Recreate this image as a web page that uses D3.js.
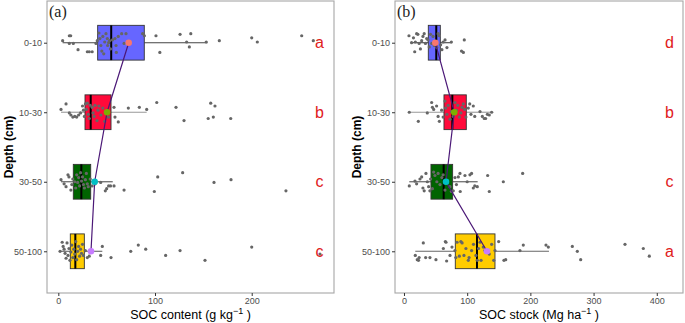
<!DOCTYPE html>
<html><head><meta charset="utf-8">
<script src="https://cdn.jsdelivr.net/npm/d3@7"></script>
<style>body{margin:0;background:#fff}svg{display:block;font-family:"Liberation Sans",Arial,sans-serif}</style>
</head><body><svg id="c" width="685" height="323"></svg>
<script>
const depths = ["0-10","10-30","30-50","50-100"];
const contentTicks = [0,100,200];
const stockTicks = [0,100,200,300,400];
const contentLetters = ["a","b","c","c"];
const stockLetters = ["d","b","c","a"];
// [whiskerLow, q1, median, q3, whiskerHigh, mean]
const contentStats = [[4.5,40.7,54.7,88.9,154,72.8],[2.8,27.6,33.5,54.5,91.4,50.4],[2.8,15.5,23.8,33.5,56.3,37.6],[1.8,12.4,17.6,26.9,45.5,33.8]];
const stockStats = [[13.7,38.5,51.1,57.5,76,49.6],[8.4,63.3,76.5,98.6,141.3,79.6],[8.4,42.7,62.8,77,116.6,66.5],[17.9,81.2,115.5,144,229.4,131.3]];
// observations: [value, vertical jitter in category steps]
const content0_10 = [[4.5,-0.03],[11.4,-0.10],[12.8,-0.10],[11.4,0.01],[15.5,0.01],[20.4,0.10],[30,0.13],[32,0.13],[35,0.13],[39,0.01],[40.3,-0.03],[42,-0.14],[43,-0.06],[44,0.04],[45,0.12],[46,-0.09],[47,0.16],[48,-0.01],[49.3,-0.13],[50.7,-0.06],[51,0.04],[52,0],[53,-0.03],[54,0.09],[56,-0.04],[58.6,-0.06],[59.7,0.04],[60,0.14],[62,-0.09],[65.5,-0.13],[68,0.01],[70,-0.13],[87.2,-0.13],[89,-0.10],[101,-0.10],[105,0.14],[125.9,-0.12],[132.7,-0.01],[135.5,0.06],[137,-0.13],[153,-0.01],[166.5,-0.03],[200,-0.07],[205.8,-0.01],[251.7,-0.10],[263.7,-0.03]];
const content10_30 = [[2.8,-0.04],[8,-0.12],[11.4,0.01],[13,0.04],[15,0.07],[17,0.06],[19,0.07],[21,0.04],[23,0.01],[25,-0.09],[26,-0.03],[27,0.06],[28,-0.12],[29,-0.04],[30,-0.13],[31,0.03],[32,0.09],[33,-0.10],[35,-0.07],[36,0.01],[37,0.06],[38,-0.10],[40,0.12],[41,-0.03],[42,-0.09],[44,0.04],[46,-0.06],[48,0.13],[50,-0.01],[52,0.07],[57.6,-0.07],[58.6,0.07],[62,0.14],[72.4,-0.06],[83.8,-0.07],[91.4,-0.04],[101.8,-0.14],[121.7,-0.07],[130,0.12],[155,0.09],[160.3,0.07],[157.6,-0.13],[162,-0.09],[178.3,0.09]];
const content30_50 = [[2.8,-0.03],[6,0.03],[8,0.07],[10,-0.10],[11,-0.07],[13,0.12],[14,0.04],[15,-0.04],[17,0],[18,0.09],[19,-0.10],[20,0.01],[21,-0.06],[22,0.06],[23,-0.13],[24,-0.01],[25,-0.07],[26,0.04],[27,0.09],[28,-0.03],[29,-0.12],[30,0.03],[31,0.07],[33,-0.04],[35,0.06],[38,0.03],[43.8,0.01],[48.6,0.13],[50,0.10],[52,0.06],[54,0.06],[57.6,0.06],[68,0.12],[99.3,0.14],[102.8,-0.07],[128.6,-0.13],[161,0.01],[178.6,-0.03],[235.4,0.13]];
const content50_100 = [[1.8,0],[4,-0.13],[5,-0.07],[6,-0.03],[7,0.03],[8,0.10],[9,-0.12],[10,0.06],[11,-0.04],[12,0.13],[13,0.01],[14,-0.09],[15,0.09],[16,-0.03],[17,0.04],[18,-0.14],[19,0.12],[20,0],[21,-0.07],[22,0.07],[23,-0.03],[24,0.03],[25,-0.10],[26,0.06],[28,-0.01],[30,0.09],[32,0.07],[43.8,0.06],[45.5,-0.07],[54.5,0.09],[74.9,0],[82.7,-0.09],[90.4,-0.03],[111,0.06],[125.9,-0.01],[151.7,0.13],[200,-0.06],[270.6,0.04]];
const stock0_10 = [[7.9,-0.10],[12,0],[15,-0.07],[17,0.13],[18,-0.01],[20,-0.13],[22,-0.12],[24,0.01],[26,0.09],[28,-0.03],[30,-0.09],[32,-0.13],[34,0.01],[36,-0.06],[38,-0.04],[40,0.06],[42,-0.12],[44,0.01],[46,-0.09],[48,0.04],[50,-0.01],[52,0.07],[54,-0.13],[56,-0.10],[58,0.03],[60,0.10],[62,-0.01],[65,-0.04],[68,0.07],[75,-0.01],[91,0.12],[94,0.14],[95.4,-0.04]];
const stock10_30 = [[8.4,0],[22.7,0.13],[36.9,0.01],[43.8,-0.14],[45,-0.07],[47,-0.04],[51.6,-0.09],[54,0.06],[56,0.13],[59.6,-0.03],[62,0.07],[64.9,-0.16],[66,-0.06],[68,0.03],[70,-0.10],[72.8,0.10],[75,-0.01],[78,0.06],[80.7,-0.14],[83,-0.03],[85,-0.10],[87.6,0.07],[90,0.01],[92,-0.07],[93.9,-0.12],[96,-0.04],[98,0.07],[101.8,-0.06],[104,-0.12],[106,0.03],[109.7,-0.09],[112,0.06],[120.3,-0.01],[124,0.06],[127,0.09],[129.2,0.09],[132,0.03],[135,0.04],[138.7,0]];
const stock30_50 = [[8.4,0.06],[17.4,-0.01],[20,0.03],[25.3,-0.04],[28,-0.07],[30,0.09],[32,0.13],[34.8,-0.12],[37,0],[39,0.07],[41,0.13],[42.2,-0.04],[45,0.10],[47,-0.14],[49,-0.09],[52,0],[54,-0.12],[57,0.04],[60,-0.06],[62,-0.10],[64.9,0.12],[67,-0.01],[72.8,0.07],[75,0.14],[78,0.13],[80.7,-0.06],[83,0.04],[86,-0.07],[88.6,-0.12],[89,0.14],[96.5,-0.09],[100,0],[104.4,-0.10],[107,-0.12],[109.7,0.09],[112,0.06],[116,0.07],[132.4,-0.09],[135,0.14],[157.2,0],[187.8,-0.12]];
const stock50_100 = [[17.9,0.06],[21,0.12],[24,0.09],[23,0.13],[30.6,-0.12],[34.3,0.09],[41.1,0.09],[50.6,0.12],[62.3,-0.04],[65.5,-0.14],[66.5,-0.13],[67.5,0.14],[72.8,0.06],[76,-0.06],[80.7,-0.01],[82,0.09],[84,-0.13],[87.6,0.07],[90,-0.14],[92,-0.12],[94.9,0.06],[98,-0.04],[101.8,0.13],[103,0.09],[107,-0.01],[110,-0.10],[113.9,0.06],[116,0.13],[118,-0.04],[120.3,-0.13],[122,0.13],[125.5,-0.06],[128,-0.01],[131.8,0],[135,0.04],[138.7,-0.10],[142,0.13],[144,-0.01],[149.8,-0.14],[158.2,0.13],[161,0.12],[183.5,-0.01],[188.8,-0.09],[224.7,-0.09],[228.4,-0.06],[266.4,-0.07],[274.3,0],[279.6,0.12],[349.7,-0.10],[378.7,-0.04],[388.2,0.07]];

const boxFill = ["#6666ff","#ff0a3a","#006400","#ffcc00"];
const meanFill = ["#f8766d","#7cae00","#00bfc4","#c77cff"];
const whiskerCol = ["#444","#999","#555","#666"];

const svg = d3.select("#c");

function drawPanel(cfg) {
  const top = 1, bottom = 293;
  const x = d3.scaleLinear().domain(cfg.domain).range([cfg.left, cfg.right]);
  const y = d3.scalePoint().domain(depths).range([top, bottom]).padding(0.6);
  const g = svg.append("g");
  const bh = y.step() * 0.5;

  // box plots
  cfg.stats.forEach((s, i) => {
    const cy = y(depths[i]);
    g.append("line").attr("x1", x(s[0])).attr("x2", x(s[1])).attr("y1", cy).attr("y2", cy)
      .attr("stroke", whiskerCol[i]).attr("stroke-width", 1.1);
    g.append("line").attr("x1", x(s[3])).attr("x2", x(s[4])).attr("y1", cy).attr("y2", cy)
      .attr("stroke", whiskerCol[i]).attr("stroke-width", 1.1);
    g.append("rect").attr("x", x(s[1])).attr("y", cy - bh/2).attr("width", x(s[3]) - x(s[1])).attr("height", bh)
      .attr("fill", boxFill[i]).attr("stroke", "#333").attr("stroke-width", 0.9);
    g.append("line").attr("x1", x(s[2])).attr("x2", x(s[2])).attr("y1", cy - bh/2).attr("y2", cy + bh/2)
      .attr("stroke", "#000").attr("stroke-width", 2);
  });

  // jittered observations
  cfg.points.forEach((pts, i) => {
    g.selectAll(null).data(pts).enter().append("circle")
      .attr("cx", d => x(d[0])).attr("cy", d => y(depths[i]) + d[1] * y.step())
      .attr("r", 1.6).attr("fill", "#666");
  });

  // mean line and points
  const line = d3.line().x(d => x(d[5])).y((d, i) => y(depths[i]));
  g.append("path").attr("d", line(cfg.stats)).attr("fill", "none").attr("stroke", "#4b1877").attr("stroke-width", 1.2);
  g.selectAll(null).data(cfg.stats).enter().append("circle")
    .attr("cx", d => x(d[5])).attr("cy", (d, i) => y(depths[i])).attr("r", 3.3)
    .attr("fill", (d, i) => meanFill[i]);

  // letters
  g.selectAll(null).data(cfg.letters).enter().append("text")
    .attr("x", x(cfg.letterX)).attr("y", (d, i) => y(depths[i]) + 5.5)
    .attr("text-anchor", "middle").attr("font-size", 16).attr("fill", "#e0201b").text(d => d);

  // border
  g.append("rect").attr("x", cfg.left).attr("y", top).attr("width", cfg.right - cfg.left).attr("height", bottom - top)
    .attr("fill", "none").attr("stroke", "#a6a6a6").attr("stroke-width", 1.1);

  // axes
  const ya = g.append("g").attr("transform", `translate(${cfg.left},0)`)
    .call(d3.axisLeft(y).tickSize(3).tickPadding(2));
  const xa = g.append("g").attr("transform", `translate(0,${bottom})`)
    .call(d3.axisBottom(x).tickValues(cfg.ticks).tickSize(3).tickPadding(1.5));
  [ya, xa].forEach(a => {
    a.select(".domain").remove();
    a.selectAll(".tick line").attr("stroke", "#333");
    a.selectAll(".tick text").attr("fill", "#4d4d4d").attr("font-size", 9)
      .attr("font-family", "Liberation Sans, Arial, sans-serif");
  });

  // panel label
  g.append("text").attr("x", cfg.left + 2).attr("y", 17).attr("font-family", "Liberation Serif, serif")
    .attr("font-size", 16).attr("fill", "#222").text(cfg.tag);

  // y title
  g.append("text").attr("transform", `translate(${cfg.left - 34},147) rotate(-90)`)
    .attr("text-anchor", "middle").attr("font-size", 12).attr("font-weight", "bold").attr("fill", "#000")
    .text("Depth (cm)");

  // x title
  const t = g.append("text").attr("x", (cfg.left + cfg.right) / 2).attr("y", 319)
    .attr("text-anchor", "middle").attr("font-size", 12.5).attr("fill", "#000");
  t.append("tspan").text(cfg.xtitle[0]);
  t.append("tspan").attr("dy", -5).attr("font-size", 9).text("\u22121");
  t.append("tspan").attr("dy", 5).text(" )");
}

drawPanel({left: 47, right: 334, domain: [-11.7, 285.1], ticks: contentTicks, stats: contentStats,
  points: [content0_10, content10_30, content30_50, content50_100], letters: contentLetters, letterX: 270,
  tag: "(a)", xtitle: ["SOC content (g kg"]});
drawPanel({left: 395, right: 683, domain: [-14.2, 441.5], ticks: stockTicks, stats: stockStats,
  points: [stock0_10, stock10_30, stock30_50, stock50_100], letters: stockLetters, letterX: 420,
  tag: "(b)", xtitle: ["SOC stock (Mg ha"]});
</script></body></html>
